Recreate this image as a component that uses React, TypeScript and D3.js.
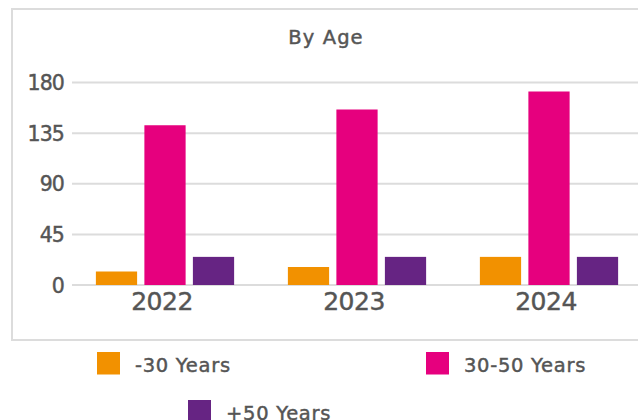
import React from "react";
import * as d3 from "d3";

const years = ["2022", "2023", "2024"];
const seriesNames = ["-30 Years", "30-50 Years", "+50 Years"];
const seriesColors = ["#F29100", "#E6007E", "#662483"];
const under30 = [12, 16, 25];
const from30to50 = [142, 156, 172];
const over50 = [25, 25, 25];
const yTicks = [0, 45, 90, 135, 180];
const title = "By Age";

const seriesValues = [under30, from30to50, over50];

export default function App() {
  const W = 638;
  const H = 420;
  const font = "'DejaVu Sans', sans-serif";
  const textColor = "#555";
  const thick = { stroke: textColor, strokeWidth: 0.45 };

  const x0 = d3.scaleBand<string>().domain(years).range([69, 645]).paddingInner(0.28).paddingOuter(0.14);
  const x1 = d3.scaleBand<number>().domain([0, 1, 2]).range([0, x0.bandwidth()]).paddingInner(0.15);
  const y = d3.scaleLinear().domain([0, 180]).range([285, 82.5]);

  const legendItems = [
    { x: 97, y: 352 },
    { x: 426, y: 352 },
    { x: 188, y: 400 },
  ];

  return (
    <svg width={W} height={H} style={{ position: "absolute", left: 0, top: 0, background: "#fff" }}>
      <rect x={12} y={9} width={660} height={331} fill="#fff" stroke="#dcdcdc" strokeWidth={2} />
      <text x={326} y={43.5} textAnchor="middle" fontFamily={font} fontSize={19.5} letterSpacing={1.1} fill={textColor} {...thick}>
        {title}
      </text>
      {yTicks.map((t) => (
        <g key={t}>
          <line x1={72} x2={W} y1={y(t)} y2={y(t)} stroke="#dcdcdc" strokeWidth={2} />
          <text x={64} y={y(t)} dy="0.37em" textAnchor="end" fontFamily={font} fontSize={20.5} letterSpacing={-0.9} fill={textColor} {...thick}>
            {t}
          </text>
        </g>
      ))}
      {years.map((yr, i) => (
        <g key={yr} transform={`translate(${x0(yr)},0)`}>
          {seriesValues.map((vals, s) => (
            <rect
              key={s}
              x={x1(s)}
              y={y(vals[i])}
              width={x1.bandwidth()}
              height={y(0) - y(vals[i])}
              fill={seriesColors[s]}
            />
          ))}
          <text
            x={x0.bandwidth() / 2 - 3}
            y={310}
            textAnchor="middle"
            fontFamily={font}
            fontSize={25}
            letterSpacing={-0.5}
            fill={textColor}
            {...thick}
          >
            {yr}
          </text>
        </g>
      ))}
      {seriesNames.map((name, s) => (
        <g key={name} transform={`translate(${legendItems[s].x},${legendItems[s].y})`}>
          <rect width={23} height={22.5} fill={seriesColors[s]} />
          <text x={38} y={19.5} fontFamily={font} fontSize={19.5} letterSpacing={0.7} fill={textColor} {...thick}>
            {name}
          </text>
        </g>
      ))}
    </svg>
  );
}
